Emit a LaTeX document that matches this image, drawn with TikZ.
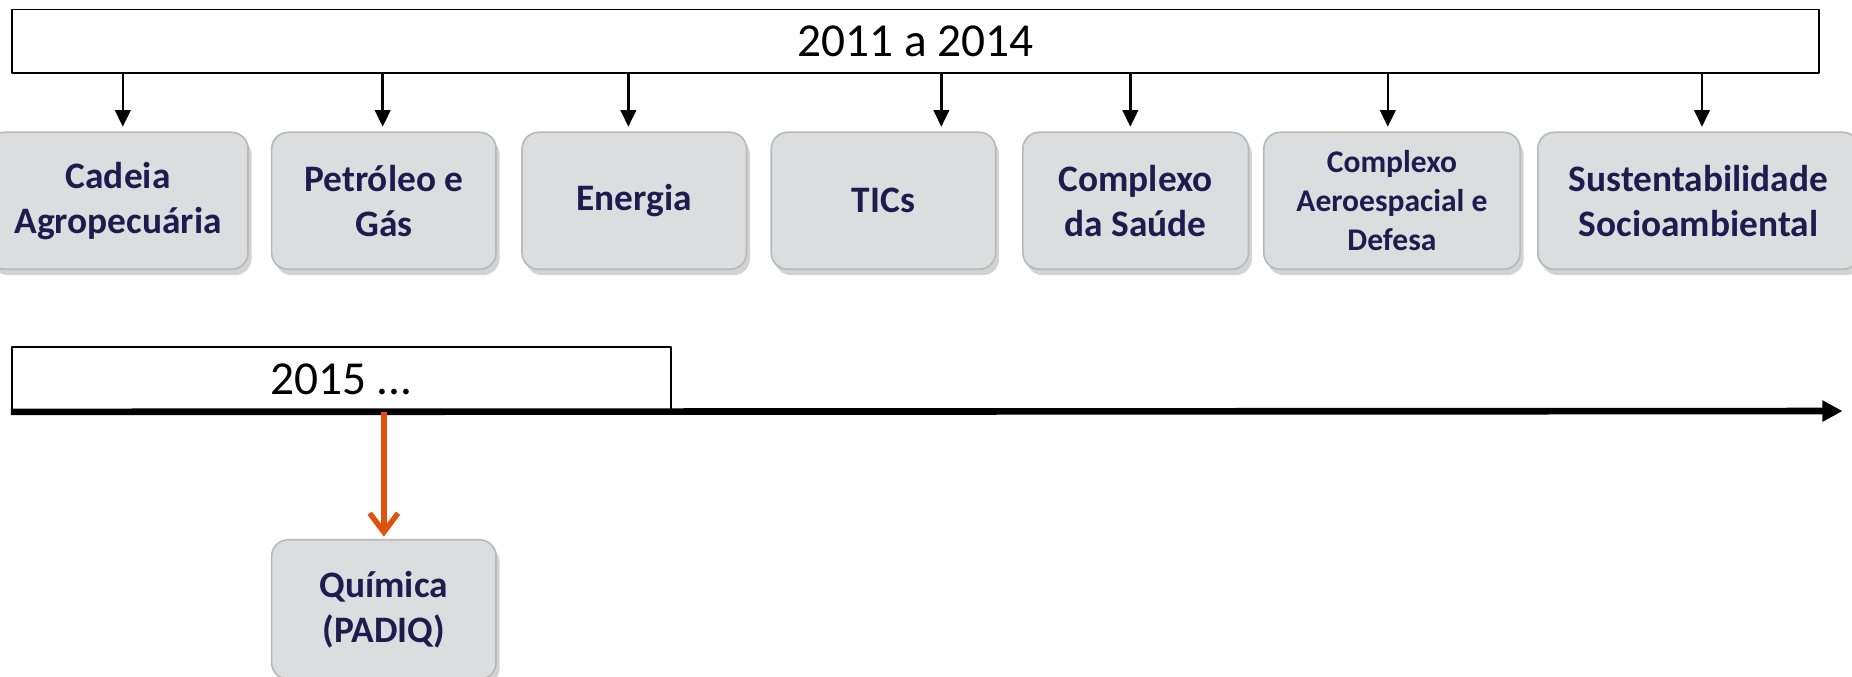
\documentclass[tikz,border=0pt]{standalone}
\usepackage{fontspec}
\setmainfont{Carlito}
\usetikzlibrary{arrows.meta,shadows}
\definecolor{navy}{HTML}{1F1B4F}
\definecolor{boxgray}{HTML}{DCDDDF}
\definecolor{orangeline}{HTML}{E0520F}
\begin{document}
\begin{tikzpicture}[x=0.1mm,y=-0.1mm,line join=round,>={Triangle[length=1.4mm,width=1.3mm]}]
					\tikzset{area/.style={draw=gray!55,fill=boxgray,rounded corners=1.4mm,minimum height=11.6mm,align=center,text=navy,font=\bfseries\fontsize{9}{10.8}\selectfont,drop shadow={shadow xshift=0.3mm,shadow yshift=-0.5mm,opacity=0.35}}}
					\tikzset{year/.style={draw,fill=white,minimum height=5.4mm,inner sep=0pt,font=\fontsize{11.4}{13}\selectfont}}
					\useasboundingbox (0,0) rectangle (1568,573);
					\node[year,minimum width=153mm] (top) at (775,35) {2011 a 2014};
					\node[area,minimum width=22mm] (b1) at (100,170) {Cadeia\\Agropecuária};
					\node[area,minimum width=19mm] (b2) at (325,170) {Petróleo e\\Gás};
					\node[area,minimum width=19mm] (b3) at (537,170) {Energia};
					\node[area,minimum width=19mm] (b4) at (748,170) {TICs};
					\node[area,minimum width=19.1mm] (b5) at (961.5,170) {Complexo\\da Saúde};
					\node[area,minimum width=21.7mm,font=\bfseries\fontsize{7.6}{9.4}\selectfont] (b6) at (1178.5,170) {Complexo\\Aeroespacial e\\Defesa};
					\node[area,minimum width=27.2mm] (b7) at (1438,170) {Sustentabilidade\\Socioambiental};
					\foreach \n/\x in {1/104,2/324,3/532,4/797,5/957,6/1175,7/1441}
					\draw[->,line width=0.6pt,shorten >=0.4mm] (\x,0 |- top.south)--(\x,0 |- b\n.north);
					\node[year,minimum width=55.8mm] (y2) at (289,321) {2015 ...};
					\coordinate (tl) at (1560,348);
					\draw[line width=1.6pt,-{Triangle[length=1.7mm,width=1.7mm]}] (y2.south west)--(tl);
					\node[area,minimum width=19mm,minimum height=11.8mm] (chem) at (325,516) {Química\\(PADIQ)};
					\draw[orangeline,line width=1.3pt,-{Straight Barb[length=1.6mm,width=2.4mm]},shorten >=0.2mm] (chem.north |- y2.south)--(chem.north);
				\end{tikzpicture}
\end{document}
